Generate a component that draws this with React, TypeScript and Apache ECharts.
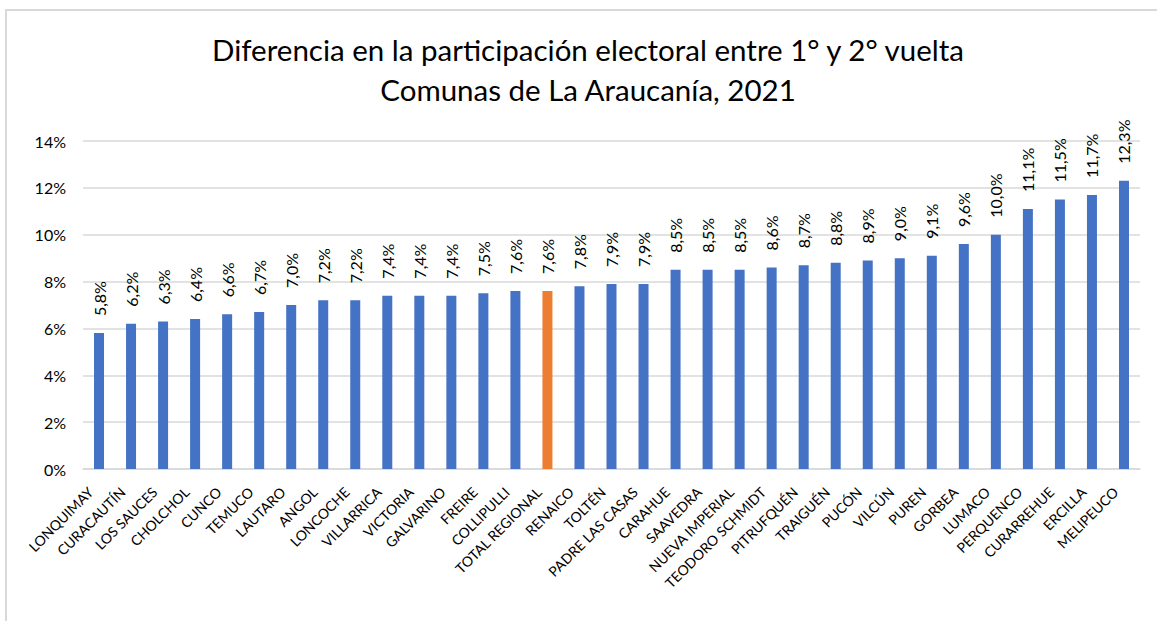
import React, { useEffect, useRef } from "react";
import * as echarts from "echarts";

const titleLines = [
  "Diferencia en la participación electoral entre 1° y 2° vuelta",
  "Comunas de La Araucanía, 2021",
];

const comunas = [
  "LONQUIMAY", "CURACAUTÍN", "LOS SAUCES", "CHOLCHOL", "CUNCO", "TEMUCO",
  "LAUTARO", "ANGOL", "LONCOCHE", "VILLARRICA", "VICTORIA", "GALVARINO",
  "FREIRE", "COLLIPULLI", "TOTAL REGIONAL", "RENAICO", "TOLTÉN",
  "PADRE LAS CASAS", "CARAHUE", "SAAVEDRA", "NUEVA IMPERIAL",
  "TEODORO SCHMIDT", "PITRUFQUÉN", "TRAIGUÉN", "PUCÓN", "VILCÚN", "PUREN",
  "GORBEA", "LUMACO", "PERQUENCO", "CURARREHUE", "ERCILLA", "MELIPEUCO",
];

const diferencia = [
  5.8, 6.2, 6.3, 6.4, 6.6, 6.7, 7.0, 7.2, 7.2, 7.4, 7.4, 7.4, 7.5, 7.6, 7.6,
  7.8, 7.9, 7.9, 8.5, 8.5, 8.5, 8.6, 8.7, 8.8, 8.9, 9.0, 9.1, 9.6, 10.0, 11.1,
  11.5, 11.7, 12.3,
];

const highlight = "TOTAL REGIONAL";
const yTicks = [0, 2, 4, 6, 8, 10, 12, 14];

const FONT = "Lato";

export default function App() {
  const ref = useRef<HTMLDivElement>(null);
  useEffect(() => {
    if (!ref.current) return;
    const chart = echarts.init(ref.current, undefined, { renderer: "svg" });
    chart.setOption({
      animation: false,
      backgroundColor: "#ffffff",
      title: {
        text: titleLines.join("\n"),
        left: 583,
        textAlign: "center",
        top: 24,
        textStyle: {
          fontFamily: FONT,
          fontSize: 29.5,
          fontWeight: "normal",
          color: "#000000",
          lineHeight: 40,
        },
      },
      graphic: [
        {
          type: "polyline",
          shape: { points: [[6, 640], [6, 10], [1200, 10]] },
          style: { stroke: "#d9d9d9", lineWidth: 2, fill: "none" },
          silent: true,
        },
      ],
      grid: { left: 83, right: 17, top: 141, bottom: 152, containLabel: false },
      xAxis: {
        type: "category",
        data: comunas,
        axisTick: { show: false },
        axisLine: { lineStyle: { color: "#d9d9d9", width: 1.5 } },
        axisLabel: {
          interval: 0,
          rotate: 45,
          margin: 12,
          padding: [0, 12, 0, 0],
          fontFamily: FONT,
          fontSize: 14,
          color: "#000000",
        },
      },
      yAxis: {
        type: "value",
        min: yTicks[0],
        max: yTicks[yTicks.length - 1],
        interval: 2,
        axisLine: { show: false },
        axisTick: { show: false },
        splitLine: { lineStyle: { color: "#d9d9d9", width: 1.5 } },
        axisLabel: {
          formatter: (v: number) => `${v}%`,
          fontFamily: FONT,
          fontSize: 16,
          color: "#000000",
          margin: 17,
        },
      },
      series: [
        {
          type: "bar",
          barWidth: 10,
          data: diferencia.map((v, i) => ({
            value: v,
            itemStyle: {
              color: comunas[i] === highlight ? "#ED7D31" : "#4472C4",
            },
          })),
          label: {
            show: true,
            position: "top",
            rotate: 90,
            align: "left",
            verticalAlign: "middle",
            distance: 17,
            fontFamily: FONT,
            fontSize: 16,
            color: "#000000",
            formatter: (p: any) => `${Number(p.value).toFixed(1).replace(".", ",")}%`,
          },
        },
      ],
    });
    return () => chart.dispose();
  }, []);
  return (
    <div
      ref={ref}
      style={{ position: "fixed", left: 0, top: 0, width: 1157, height: 621, background: "#fff" }}
    />
  );
}
